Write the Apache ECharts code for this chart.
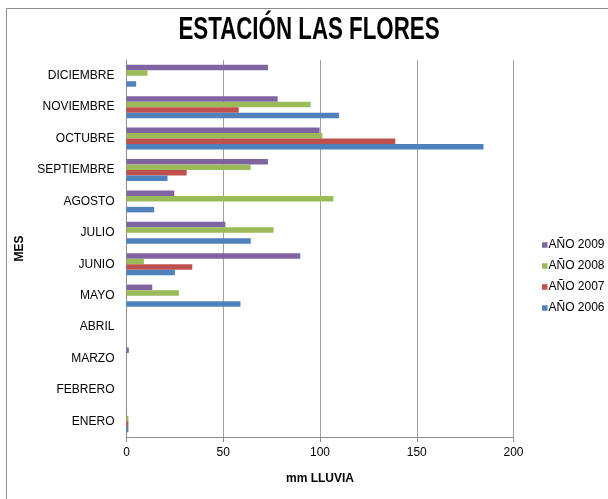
<!DOCTYPE html>
<html>
<head>
<meta charset="utf-8">
<script src="https://cdn.jsdelivr.net/npm/echarts@6/dist/echarts.min.js"></script>
<style>
  html, body { margin: 0; padding: 0; background: #ffffff; }
  #chart { width: 608px; height: 499px; }
</style>
</head>
<body>
<div id="chart"></div>
<script>
// Monthly rainfall (mm) at Estación Las Flores, 2006-2009
const months = ['ENERO', 'FEBRERO', 'MARZO', 'ABRIL', 'MAYO', 'JUNIO', 'JULIO',
                'AGOSTO', 'SEPTIEMBRE', 'OCTUBRE', 'NOVIEMBRE', 'DICIEMBRE'];
const lluvia2006 = [1.0, 0, 0, 0, 58.9, 25.0, 64.2, 14.3, 21.2, 184.5, 109.8, 5.0];
const lluvia2007 = [1.0, 0, 0, 0, 0, 34.0, 0, 0, 31.1, 138.9, 58.0, 0];
const lluvia2008 = [1.0, 0, 0, 0, 27.1, 9.0, 76.0, 106.9, 64.2, 101.2, 95.2, 10.9];
const lluvia2009 = [0, 0, 1.2, 0, 13.3, 89.8, 51.1, 24.7, 73.1, 99.8, 78.1, 73.1];
const seriesNames = ['AÑO 2009', 'AÑO 2008', 'AÑO 2007', 'AÑO 2006'];
const xTicks = [0, 50, 100, 150, 200];

const colors = {
  'AÑO 2009': '#8064A2',
  'AÑO 2008': '#9BBB59',
  'AÑO 2007': '#C0504D',
  'AÑO 2006': '#4F81BD'
};
const values = {
  'AÑO 2009': lluvia2009,
  'AÑO 2008': lluvia2008,
  'AÑO 2007': lluvia2007,
  'AÑO 2006': lluvia2006
};

const FONT = '"Liberation Sans", Arial, sans-serif';

const chart = echarts.init(document.getElementById('chart'), null, { renderer: 'canvas' });

const series = seriesNames.map(name => ({
  name: name,
  type: 'bar',
  data: values[name],
  barWidth: 5.5,
  barGap: '0%',
  itemStyle: { color: colors[name] }
}));

chart.setOption({
  backgroundColor: '#ffffff',
  animation: false,
  graphic: [
    {
      // chart-area frame
      type: 'rect',
      shape: { x: 6.5, y: 8.5, width: 700, height: 600 },
      style: { fill: 'none', stroke: '#8c8c8c', lineWidth: 1 },
      silent: true
    },
    {
      // condensed bold title
      type: 'text',
      x: 309,
      y: 30,
      scaleX: 0.72,
      style: {
        text: 'ESTACIÓN LAS FLORES',
        font: 'bold 31px ' + FONT,
        fill: '#000000',
        textAlign: 'center',
        textVerticalAlign: 'middle'
      },
      silent: true
    }
  ],
  legend: {
    data: seriesNames,
    orient: 'vertical',
    left: 537,
    top: 234,
    icon: 'rect',
    itemWidth: 5.5,
    itemHeight: 5.5,
    itemGap: 9,
    textStyle: {
      fontFamily: FONT,
      fontSize: 12,
      color: '#000000',
      padding: [0, 0, 0, -4]
    }
  },
  grid: {
    left: 126.5,
    right: 94.5,
    top: 60,
    bottom: 62,
    containLabel: false,
    outerBoundsMode: 'none'
  },
  xAxis: {
    type: 'value',
    min: xTicks[0],
    max: xTicks[xTicks.length - 1],
    interval: 50,
    name: 'mm LLUVIA',
    nameLocation: 'middle',
    nameGap: 36,
    nameTextStyle: {
      fontFamily: FONT,
      fontWeight: 'bold',
      fontSize: 12,
      color: '#000000'
    },
    axisLine: { show: true, lineStyle: { color: '#8c8c8c', width: 1 } },
    axisTick: { show: true, length: 5, lineStyle: { color: '#8c8c8c' } },
    axisLabel: {
      fontFamily: FONT,
      fontSize: 12,
      color: '#000000',
      margin: 10
    },
    splitLine: { show: true, lineStyle: { color: '#a0a0a0', width: 1 } }
  },
  yAxis: {
    type: 'category',
    data: months,
    name: 'MES',
    nameLocation: 'middle',
    nameRotate: 90,
    nameGap: 101,
    nameTextStyle: {
      fontFamily: FONT,
      fontWeight: 'bold',
      fontSize: 12,
      color: '#000000'
    },
    axisLine: { show: true, lineStyle: { color: '#8c8c8c', width: 1 } },
    axisTick: { show: false },
    axisLabel: {
      fontFamily: FONT,
      fontSize: 12,
      color: '#000000',
      margin: 12
    },
    splitLine: { show: false }
  },
  series: series
});
</script>
</body>
</html>
